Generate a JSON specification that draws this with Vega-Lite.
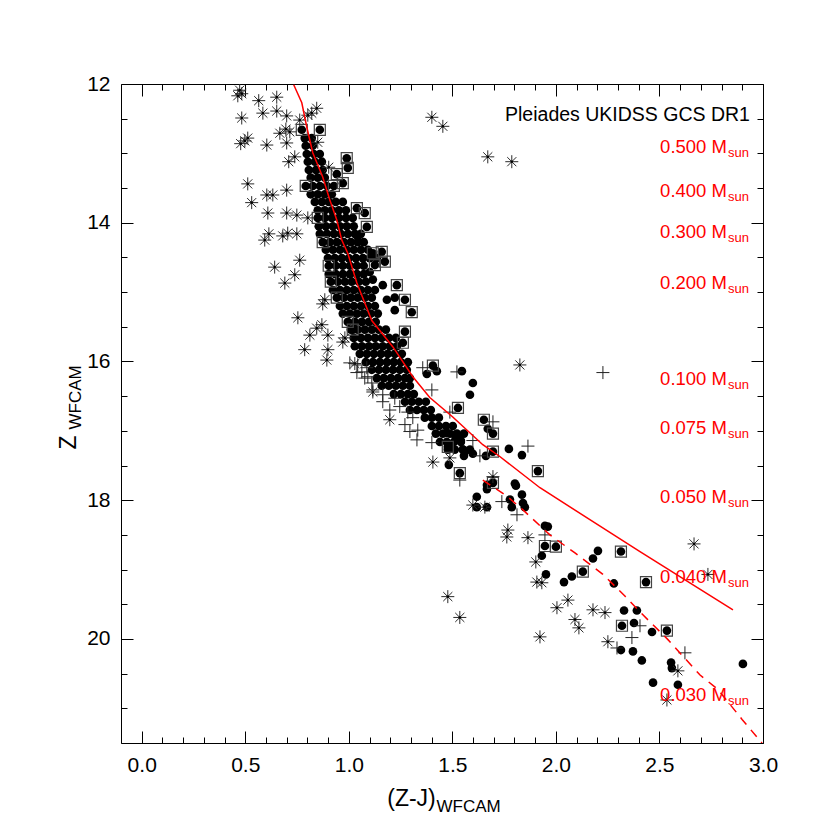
{
"$schema":"https://vega.github.io/schema/vega-lite/v6.json",
"width":642,"height":659,"autosize":"none",
"padding":{"left":121,"top":84,"right":67,"bottom":87},
"background":"white",
"config":{"view":{"stroke":null},"font":"Liberation Sans","axis":{"grid":false}},
"datasets":{
"pts":[
{"x":0.773,"y":12.66,"t":"b"},{"x":0.860,"y":12.66,"t":"b"},
{"x":0.787,"y":12.78,"t":"c"},{"x":0.821,"y":12.78,"t":"c"},
{"x":0.792,"y":12.89,"t":"c"},{"x":0.826,"y":12.89,"t":"c"},
{"x":0.797,"y":13.01,"t":"c"},{"x":0.831,"y":13.01,"t":"c"},{"x":0.860,"y":13.01,"t":"c"},
{"x":0.802,"y":13.12,"t":"c"},{"x":0.836,"y":13.12,"t":"c"},{"x":0.870,"y":13.12,"t":"c"},
{"x":0.807,"y":13.24,"t":"c"},{"x":0.841,"y":13.24,"t":"c"},{"x":0.874,"y":13.24,"t":"c"},
{"x":0.816,"y":13.35,"t":"c"},{"x":0.850,"y":13.35,"t":"c"},{"x":0.884,"y":13.35,"t":"c"},
{"x":0.792,"y":13.47,"t":"b"},{"x":0.826,"y":13.47,"t":"c"},{"x":0.860,"y":13.47,"t":"c"},{"x":0.894,"y":13.47,"t":"c"},{"x":0.928,"y":13.47,"t":"b"},
{"x":0.816,"y":13.59,"t":"c"},{"x":0.850,"y":13.59,"t":"c"},{"x":0.884,"y":13.59,"t":"c"},{"x":0.918,"y":13.59,"t":"c"},
{"x":0.836,"y":13.70,"t":"c"},{"x":0.870,"y":13.70,"t":"c"},{"x":0.903,"y":13.70,"t":"c"},{"x":0.937,"y":13.70,"t":"c"},{"x":0.971,"y":13.70,"t":"c"},
{"x":0.850,"y":13.82,"t":"c"},{"x":0.884,"y":13.82,"t":"c"},{"x":0.918,"y":13.82,"t":"c"},{"x":0.952,"y":13.82,"t":"c"},{"x":0.986,"y":13.82,"t":"c"},
{"x":0.850,"y":13.93,"t":"b"},{"x":0.884,"y":13.93,"t":"c"},{"x":0.918,"y":13.93,"t":"c"},{"x":0.952,"y":13.93,"t":"c"},{"x":0.986,"y":13.93,"t":"c"},{"x":1.019,"y":13.93,"t":"c"},
{"x":0.855,"y":14.05,"t":"c"},{"x":0.889,"y":14.05,"t":"c"},{"x":0.923,"y":14.05,"t":"c"},{"x":0.957,"y":14.05,"t":"c"},{"x":0.990,"y":14.05,"t":"c"},{"x":1.024,"y":14.05,"t":"c"},
{"x":0.860,"y":14.16,"t":"c"},{"x":0.894,"y":14.16,"t":"c"},{"x":0.928,"y":14.16,"t":"c"},{"x":0.961,"y":14.16,"t":"c"},{"x":0.995,"y":14.16,"t":"c"},{"x":1.029,"y":14.16,"t":"c"},{"x":1.058,"y":14.16,"t":"c"},
{"x":0.874,"y":14.28,"t":"b"},{"x":0.908,"y":14.28,"t":"c"},{"x":0.942,"y":14.28,"t":"c"},{"x":0.976,"y":14.28,"t":"c"},{"x":1.010,"y":14.28,"t":"c"},{"x":1.043,"y":14.28,"t":"c"},{"x":1.072,"y":14.28,"t":"c"},
{"x":0.889,"y":14.39,"t":"c"},{"x":0.923,"y":14.39,"t":"c"},{"x":0.957,"y":14.39,"t":"c"},{"x":0.990,"y":14.39,"t":"c"},{"x":1.024,"y":14.39,"t":"c"},{"x":1.058,"y":14.39,"t":"c"},{"x":1.092,"y":14.39,"t":"c"},
{"x":0.899,"y":14.51,"t":"c"},{"x":0.932,"y":14.51,"t":"c"},{"x":0.966,"y":14.51,"t":"c"},{"x":1.000,"y":14.51,"t":"c"},{"x":1.034,"y":14.51,"t":"c"},{"x":1.068,"y":14.51,"t":"c"},{"x":1.101,"y":14.51,"t":"c"},{"x":1.135,"y":14.51,"t":"c"},
{"x":0.903,"y":14.62,"t":"b"},{"x":0.937,"y":14.62,"t":"c"},{"x":0.971,"y":14.62,"t":"c"},{"x":1.005,"y":14.62,"t":"c"},{"x":1.039,"y":14.62,"t":"c"},{"x":1.072,"y":14.62,"t":"c"},
{"x":0.903,"y":14.74,"t":"c"},{"x":0.937,"y":14.74,"t":"c"},{"x":0.971,"y":14.74,"t":"c"},{"x":1.005,"y":14.74,"t":"c"},{"x":1.039,"y":14.74,"t":"c"},{"x":1.072,"y":14.74,"t":"c"},
{"x":0.913,"y":14.85,"t":"b"},{"x":0.947,"y":14.85,"t":"c"},{"x":0.981,"y":14.85,"t":"c"},{"x":1.014,"y":14.85,"t":"c"},{"x":1.048,"y":14.85,"t":"c"},{"x":1.082,"y":14.85,"t":"c"},
{"x":0.923,"y":14.97,"t":"c"},{"x":0.957,"y":14.97,"t":"c"},{"x":0.990,"y":14.97,"t":"c"},{"x":1.024,"y":14.97,"t":"c"},{"x":1.058,"y":14.97,"t":"c"},{"x":1.092,"y":14.97,"t":"c"},{"x":1.126,"y":14.97,"t":"c"},
{"x":0.942,"y":15.08,"t":"b"},{"x":0.976,"y":15.08,"t":"c"},{"x":1.010,"y":15.08,"t":"c"},{"x":1.043,"y":15.08,"t":"c"},{"x":1.077,"y":15.08,"t":"c"},{"x":1.111,"y":15.08,"t":"c"},
{"x":0.957,"y":15.20,"t":"c"},{"x":0.990,"y":15.20,"t":"c"},{"x":1.024,"y":15.20,"t":"c"},{"x":1.058,"y":15.20,"t":"c"},{"x":1.092,"y":15.20,"t":"c"},{"x":1.126,"y":15.20,"t":"c"},
{"x":0.971,"y":15.31,"t":"c"},{"x":1.005,"y":15.31,"t":"c"},{"x":1.039,"y":15.31,"t":"c"},{"x":1.072,"y":15.31,"t":"c"},{"x":1.106,"y":15.31,"t":"c"},{"x":1.140,"y":15.31,"t":"c"},
{"x":0.995,"y":15.43,"t":"b"},{"x":1.029,"y":15.43,"t":"c"},{"x":1.063,"y":15.43,"t":"c"},{"x":1.097,"y":15.43,"t":"c"},{"x":1.130,"y":15.43,"t":"c"},
{"x":1.010,"y":15.54,"t":"c"},{"x":1.043,"y":15.54,"t":"c"},{"x":1.077,"y":15.54,"t":"c"},{"x":1.111,"y":15.54,"t":"c"},{"x":1.145,"y":15.54,"t":"c"},{"x":1.179,"y":15.54,"t":"c"},
{"x":1.024,"y":15.66,"t":"c"},{"x":1.058,"y":15.66,"t":"c"},{"x":1.092,"y":15.66,"t":"c"},{"x":1.126,"y":15.66,"t":"c"},{"x":1.159,"y":15.66,"t":"c"},{"x":1.193,"y":15.66,"t":"c"},{"x":1.227,"y":15.66,"t":"c"},
{"x":1.029,"y":15.78,"t":"c"},{"x":1.063,"y":15.78,"t":"c"},{"x":1.097,"y":15.78,"t":"c"},{"x":1.130,"y":15.78,"t":"c"},{"x":1.164,"y":15.78,"t":"c"},{"x":1.198,"y":15.78,"t":"c"},{"x":1.232,"y":15.78,"t":"c"},
{"x":1.053,"y":15.89,"t":"c"},{"x":1.087,"y":15.89,"t":"c"},{"x":1.121,"y":15.89,"t":"c"},{"x":1.155,"y":15.89,"t":"c"},{"x":1.188,"y":15.89,"t":"c"},{"x":1.222,"y":15.89,"t":"c"},{"x":1.256,"y":15.89,"t":"c"},
{"x":1.082,"y":16.01,"t":"c"},{"x":1.116,"y":16.01,"t":"c"},{"x":1.150,"y":16.01,"t":"c"},{"x":1.184,"y":16.01,"t":"c"},{"x":1.217,"y":16.01,"t":"c"},{"x":1.251,"y":16.01,"t":"c"},{"x":1.285,"y":16.01,"t":"c"},
{"x":1.111,"y":16.12,"t":"c"},{"x":1.145,"y":16.12,"t":"c"},{"x":1.179,"y":16.12,"t":"c"},{"x":1.213,"y":16.12,"t":"c"},{"x":1.246,"y":16.12,"t":"c"},{"x":1.280,"y":16.12,"t":"c"},
{"x":1.135,"y":16.24,"t":"c"},{"x":1.169,"y":16.24,"t":"c"},{"x":1.203,"y":16.24,"t":"c"},{"x":1.237,"y":16.24,"t":"c"},{"x":1.271,"y":16.24,"t":"c"},{"x":1.295,"y":16.24,"t":"c"},
{"x":1.159,"y":16.35,"t":"c"},{"x":1.193,"y":16.35,"t":"c"},{"x":1.227,"y":16.35,"t":"c"},{"x":1.261,"y":16.35,"t":"c"},{"x":1.295,"y":16.35,"t":"c"},
{"x":1.217,"y":16.47,"t":"c"},{"x":1.251,"y":16.47,"t":"c"},{"x":1.285,"y":16.47,"t":"c"},{"x":1.314,"y":16.47,"t":"c"},
{"x":1.271,"y":16.58,"t":"c"},{"x":1.304,"y":16.58,"t":"c"},{"x":1.338,"y":16.58,"t":"c"},{"x":1.372,"y":16.58,"t":"c"},
{"x":1.295,"y":16.70,"t":"c"},{"x":1.329,"y":16.70,"t":"c"},{"x":1.362,"y":16.70,"t":"c"},{"x":1.396,"y":16.70,"t":"c"},
{"x":1.367,"y":16.81,"t":"c"},{"x":1.401,"y":16.81,"t":"c"},{"x":1.435,"y":16.81,"t":"c"},
{"x":1.401,"y":16.93,"t":"c"},{"x":1.435,"y":16.93,"t":"c"},{"x":1.469,"y":16.93,"t":"c"},{"x":1.502,"y":16.93,"t":"c"},
{"x":1.420,"y":17.04,"t":"c"},{"x":1.454,"y":17.04,"t":"c"},{"x":1.488,"y":17.04,"t":"c"},{"x":1.522,"y":17.04,"t":"c"},{"x":1.556,"y":17.04,"t":"c"},
{"x":1.440,"y":17.16,"t":"c"},{"x":1.473,"y":17.16,"t":"c"},{"x":1.507,"y":17.16,"t":"c"},{"x":1.541,"y":17.16,"t":"c"},
{"x":1.478,"y":17.27,"t":"c"},{"x":1.512,"y":17.27,"t":"c"},{"x":1.551,"y":17.27,"t":"c"},{"x":1.585,"y":17.27,"t":"c"},
{"x":0.990,"y":13.07,"t":"b"},{"x":0.995,"y":13.21,"t":"b"},{"x":0.942,"y":13.30,"t":"b"},{"x":0.971,"y":13.43,"t":"b"},
{"x":1.039,"y":13.79,"t":"b"},{"x":1.077,"y":13.86,"t":"b"},{"x":1.087,"y":14.06,"t":"b"},{"x":1.043,"y":14.20,"t":"c"},
{"x":1.116,"y":14.44,"t":"b"},{"x":1.159,"y":14.42,"t":"b"},{"x":1.174,"y":14.56,"t":"b"},{"x":1.126,"y":14.61,"t":"b"},
{"x":1.101,"y":14.71,"t":"c"},{"x":1.116,"y":14.82,"t":"c"},{"x":1.164,"y":14.90,"t":"c"},{"x":1.232,"y":14.90,"t":"b"},
{"x":1.222,"y":15.08,"t":"c"},{"x":1.184,"y":15.11,"t":"c"},{"x":1.271,"y":15.11,"t":"b"},{"x":1.222,"y":15.26,"t":"c"},
{"x":1.304,"y":15.29,"t":"b"},{"x":1.019,"y":15.54,"t":"b"},{"x":1.271,"y":15.57,"t":"b"},{"x":1.261,"y":15.73,"t":"b"},
{"x":1.406,"y":16.06,"t":"b"},{"x":1.425,"y":16.14,"t":"c"},{"x":1.377,"y":16.18,"t":"c"},{"x":1.546,"y":16.14,"t":"c"},
{"x":1.599,"y":16.31,"t":"c"},{"x":1.585,"y":16.48,"t":"c"},{"x":1.527,"y":16.67,"t":"b"},{"x":1.652,"y":16.84,"t":"b"},
{"x":1.671,"y":16.97,"t":"c"},{"x":1.696,"y":17.04,"t":"b"},{"x":1.473,"y":17.03,"t":"c"},{"x":1.512,"y":17.06,"t":"c"},
{"x":1.527,"y":17.10,"t":"c"},{"x":1.478,"y":17.23,"t":"b"},{"x":1.541,"y":17.14,"t":"c"},{"x":1.551,"y":17.27,"t":"c"},
{"x":1.488,"y":17.20,"t":"c"},{"x":1.560,"y":17.30,"t":"c"},{"x":1.556,"y":17.36,"t":"c"},{"x":1.599,"y":17.33,"t":"c"},
{"x":1.662,"y":17.36,"t":"c"},{"x":1.696,"y":17.30,"t":"b"},{"x":1.773,"y":17.26,"t":"c"},{"x":1.836,"y":17.35,"t":"c"},
{"x":1.483,"y":17.49,"t":"c"},{"x":1.536,"y":17.61,"t":"b"},{"x":1.913,"y":17.58,"t":"b"},{"x":1.696,"y":17.75,"t":"b"},
{"x":1.667,"y":17.84,"t":"c"},{"x":1.618,"y":17.95,"t":"c"},{"x":1.618,"y":18.10,"t":"c"},{"x":1.667,"y":18.10,"t":"c"},
{"x":1.802,"y":17.76,"t":"c"},{"x":1.807,"y":17.79,"t":"c"},{"x":1.836,"y":17.92,"t":"c"},{"x":1.778,"y":17.99,"t":"c"},
{"x":1.787,"y":18.10,"t":"c"},{"x":1.841,"y":18.04,"t":"c"},{"x":1.850,"y":18.10,"t":"c"},{"x":1.947,"y":18.37,"t":"c"},
{"x":1.961,"y":18.38,"t":"c"},{"x":1.947,"y":18.66,"t":"b"},{"x":2.000,"y":18.67,"t":"b"},{"x":1.932,"y":18.80,"t":"c"},
{"x":2.203,"y":18.73,"t":"c"},{"x":2.179,"y":18.84,"t":"c"},{"x":2.130,"y":19.03,"t":"b"},{"x":2.314,"y":18.74,"t":"b"},
{"x":1.952,"y":19.07,"t":"c"},{"x":2.077,"y":19.10,"t":"c"},{"x":2.039,"y":19.18,"t":"c"},{"x":2.280,"y":19.20,"t":"c"},
{"x":2.435,"y":19.18,"t":"b"},{"x":2.329,"y":19.59,"t":"c"},{"x":2.391,"y":19.59,"t":"c"},{"x":2.319,"y":19.81,"t":"b"},
{"x":2.377,"y":19.77,"t":"c"},{"x":2.464,"y":19.90,"t":"c"},{"x":2.536,"y":19.88,"t":"b"},{"x":2.314,"y":20.16,"t":"c"},
{"x":2.372,"y":20.18,"t":"c"},{"x":2.415,"y":20.31,"t":"c"},{"x":2.556,"y":20.34,"t":"c"},{"x":2.560,"y":20.42,"t":"c"},
{"x":2.469,"y":20.63,"t":"c"},{"x":2.589,"y":20.66,"t":"c"},{"x":2.903,"y":20.36,"t":"c"},{"x":1.667,"y":17.78,"t":"c"},
{"x":0.473,"y":12.09,"t":"a"},{"x":0.483,"y":12.14,"t":"a"},{"x":0.464,"y":12.17,"t":"a"},{"x":0.565,"y":12.24,"t":"a"},
{"x":0.652,"y":12.19,"t":"a"},{"x":0.585,"y":12.42,"t":"a"},{"x":0.652,"y":12.39,"t":"a"},{"x":0.700,"y":12.46,"t":"a"},
{"x":0.483,"y":12.49,"t":"a"},{"x":0.845,"y":12.35,"t":"a"},{"x":0.821,"y":12.42,"t":"a"},{"x":0.802,"y":12.45,"t":"a"},
{"x":0.763,"y":12.52,"t":"a"},{"x":0.696,"y":12.65,"t":"a"},{"x":0.715,"y":12.69,"t":"a"},{"x":0.667,"y":12.71,"t":"a"},
{"x":0.850,"y":12.84,"t":"a"},{"x":0.512,"y":12.78,"t":"a"},{"x":0.498,"y":12.82,"t":"a"},{"x":0.478,"y":12.86,"t":"a"},
{"x":0.604,"y":12.88,"t":"a"},{"x":0.700,"y":12.85,"t":"a"},{"x":0.739,"y":13.05,"t":"a"},{"x":0.710,"y":13.12,"t":"a"},
{"x":0.903,"y":13.20,"t":"a"},{"x":0.512,"y":13.44,"t":"a"},{"x":0.604,"y":13.60,"t":"a"},{"x":0.633,"y":13.60,"t":"a"},
{"x":0.700,"y":13.53,"t":"a"},{"x":0.531,"y":13.71,"t":"a"},{"x":0.609,"y":13.86,"t":"a"},{"x":0.700,"y":13.86,"t":"a"},
{"x":0.749,"y":13.89,"t":"a"},{"x":0.802,"y":13.93,"t":"a"},{"x":0.614,"y":14.16,"t":"a"},{"x":0.681,"y":14.19,"t":"a"},
{"x":0.705,"y":14.15,"t":"a"},{"x":0.749,"y":14.16,"t":"a"},{"x":0.594,"y":14.25,"t":"a"},{"x":0.642,"y":14.64,"t":"a"},
{"x":0.763,"y":14.54,"t":"a"},{"x":0.739,"y":14.75,"t":"a"},{"x":0.691,"y":14.87,"t":"a"},{"x":0.884,"y":15.11,"t":"a"},
{"x":0.874,"y":15.17,"t":"a"},{"x":0.754,"y":15.37,"t":"a"},{"x":0.870,"y":15.47,"t":"a"},{"x":0.845,"y":15.52,"t":"a"},
{"x":0.812,"y":15.62,"t":"a"},{"x":0.899,"y":15.62,"t":"a"},{"x":0.981,"y":15.66,"t":"a"},{"x":0.787,"y":15.83,"t":"a"},
{"x":0.899,"y":15.83,"t":"a"},{"x":0.894,"y":15.98,"t":"a"},{"x":0.971,"y":15.72,"t":"a"},{"x":1.826,"y":16.05,"t":"a"},
{"x":1.116,"y":16.44,"t":"a"},{"x":1.198,"y":16.84,"t":"a"},{"x":1.406,"y":17.45,"t":"a"},{"x":1.488,"y":17.39,"t":"a"},
{"x":1.696,"y":17.66,"t":"a"},{"x":1.599,"y":18.07,"t":"a"},{"x":1.657,"y":18.10,"t":"a"},{"x":1.768,"y":18.43,"t":"a"},
{"x":1.763,"y":18.53,"t":"a"},{"x":1.865,"y":18.54,"t":"a"},{"x":1.903,"y":18.89,"t":"a"},{"x":1.908,"y":19.18,"t":"a"},
{"x":1.932,"y":19.19,"t":"a"},{"x":1.478,"y":19.39,"t":"a"},{"x":1.536,"y":19.69,"t":"a"},{"x":2.058,"y":19.44,"t":"a"},
{"x":2.005,"y":19.55,"t":"a"},{"x":2.179,"y":19.58,"t":"a"},{"x":2.237,"y":19.62,"t":"a"},{"x":2.092,"y":19.72,"t":"a"},
{"x":2.111,"y":19.84,"t":"a"},{"x":1.923,"y":19.97,"t":"a"},{"x":2.251,"y":20.04,"t":"a"},{"x":2.589,"y":20.46,"t":"a"},
{"x":2.536,"y":20.88,"t":"a"},{"x":2.734,"y":19.07,"t":"a"},{"x":2.667,"y":18.63,"t":"a"},{"x":1.401,"y":12.48,"t":"a"},
{"x":1.454,"y":12.61,"t":"a"},{"x":1.671,"y":13.05,"t":"a"},{"x":1.787,"y":13.12,"t":"a"},{"x":1.029,"y":16.03,"t":"a"},
{"x":2.227,"y":16.16,"t":"p"},{"x":1.005,"y":16.02,"t":"p"},{"x":1.043,"y":16.05,"t":"p"},{"x":1.087,"y":16.09,"t":"p"},
{"x":1.039,"y":16.16,"t":"p"},{"x":1.092,"y":16.22,"t":"p"},{"x":1.063,"y":16.15,"t":"p"},{"x":1.077,"y":16.24,"t":"p"},
{"x":1.111,"y":16.31,"t":"p"},{"x":1.116,"y":16.41,"t":"p"},{"x":1.164,"y":16.48,"t":"p"},{"x":1.164,"y":16.58,"t":"p"},
{"x":1.246,"y":16.65,"t":"p"},{"x":1.285,"y":16.73,"t":"p"},{"x":1.309,"y":16.81,"t":"p"},{"x":1.295,"y":17.01,"t":"p"},
{"x":1.333,"y":16.99,"t":"p"},{"x":1.329,"y":17.13,"t":"p"},{"x":1.401,"y":17.17,"t":"p"},{"x":1.357,"y":16.09,"t":"p"},
{"x":1.401,"y":16.41,"t":"p"},{"x":1.522,"y":16.15,"t":"p"},{"x":1.536,"y":17.71,"t":"p"},{"x":1.599,"y":17.14,"t":"p"},
{"x":1.488,"y":16.73,"t":"p"},{"x":1.696,"y":16.87,"t":"p"},{"x":1.865,"y":17.22,"t":"p"},{"x":1.633,"y":17.36,"t":"p"},
{"x":1.739,"y":18.02,"t":"p"},{"x":1.812,"y":18.21,"t":"p"},{"x":1.947,"y":18.50,"t":"p"},{"x":2.406,"y":19.81,"t":"p"},
{"x":2.367,"y":19.98,"t":"p"},{"x":2.295,"y":20.13,"t":"p"},{"x":2.623,"y":20.20,"t":"p"},{"x":1.198,"y":16.70,"t":"p"},
{"x":1.271,"y":16.91,"t":"p"},{"x":1.222,"y":16.53,"t":"p"}
],
"solid":[
{"x":0.734,"y":12.01},{"x":0.773,"y":12.27},{"x":0.797,"y":12.62},{"x":0.826,"y":12.99},{"x":0.874,"y":13.34},
{"x":0.908,"y":13.67},{"x":0.942,"y":13.96},{"x":0.966,"y":14.25},{"x":0.995,"y":14.44},{"x":1.039,"y":14.87},
{"x":1.111,"y":15.41},{"x":1.213,"y":15.79},{"x":1.309,"y":16.22},{"x":1.391,"y":16.52},{"x":1.502,"y":16.80},
{"x":1.647,"y":17.20},{"x":1.729,"y":17.37},{"x":1.923,"y":17.82},{"x":2.164,"y":18.28},{"x":2.406,"y":18.74},
{"x":2.855,"y":19.58}
],
"dashed":[
{"x":1.647,"y":17.71},{"x":1.763,"y":17.94},{"x":1.841,"y":18.14},{"x":1.971,"y":18.50},{"x":2.092,"y":18.76},
{"x":2.227,"y":19.07},{"x":2.333,"y":19.38},{"x":2.406,"y":19.61},{"x":2.541,"y":20.01},{"x":2.696,"y":20.52},
{"x":2.783,"y":20.73},{"x":2.899,"y":21.16},{"x":2.995,"y":21.50}
],
"mass":[
{"m":"0.500 M","x":2.826,"y":13.00},{"m":"0.400 M","x":2.826,"y":13.63},{"m":"0.300 M","x":2.826,"y":14.22},
{"m":"0.200 M","x":2.826,"y":14.95},{"m":"0.100 M","x":2.826,"y":16.34},{"m":"0.075 M","x":2.826,"y":17.05},
{"m":"0.050 M","x":2.826,"y":18.04},{"m":"0.040 M","x":2.826,"y":19.19},{"m":"0.030 M","x":2.826,"y":20.90}
],
"lbl":[{"text":"Pleiades UKIDSS GCS DR1","x":2.937,"y":12.54}]
},
"layer":[
{"data":{"name":"pts"},"transform":[{"filter":{"field":"t","oneOf":["c","b"]}}],
 "mark":{"type":"point","shape":"circle","filled":true,"color":"black","size":75,"opacity":1,"strokeWidth":0,"clip":true},
 "encoding":{
  "x":{"field":"x","type":"quantitative","scale":{"domain":[-0.1,3.0],"nice":false,"zero":false},
   "axis":{"orient":"bottom","values":[0,0.1,0.2,0.3,0.4,0.5,0.6,0.7,0.8,0.9,1.0,1.1,1.2,1.3,1.4,1.5,1.6,1.7,1.8,1.9,2.0,2.1,2.2,2.3,2.4,2.5,2.6,2.7,2.8,2.9,3.0],
    "domainColor":"black","domainWidth":1,"tickColor":"black","tickWidth":1,
    "tickSize":{"condition":{"test":"abs(datum.value*2-round(datum.value*2))<0.001","value":-12},"value":-6},
    "labelExpr":"abs(datum.value*2-round(datum.value*2))<0.001 ? format(datum.value,'.1f') : ''",
    "labelFontSize":21,"labelColor":"black","labelPadding":23,"labelFlush":false,"labelOverlap":false,"labelBaseline":"top",
    "title":"(Z-J)","titleFontSize":23,"titleFontWeight":"normal","titleColor":"black","titleX":290,"titleY":62,"titleAlign":"center","titleBaseline":"alphabetic"}},
  "y":{"field":"y","type":"quantitative","scale":{"domain":[12,21.5],"reverse":true,"nice":false,"zero":false},
   "axis":{"orient":"left","values":[12,12.5,13,13.5,14,14.5,15,15.5,16,16.5,17,17.5,18,18.5,19,19.5,20,20.5,21,21.5],
    "domainColor":"black","domainWidth":1,"tickColor":"black","tickWidth":1,
    "tickSize":{"condition":{"test":"datum.value % 2 == 0","value":-12},"value":-6},
    "labelExpr":"datum.value % 2 == 0 ? format(datum.value,'d') : ''",
    "labelFontSize":21,"labelColor":"black","labelPadding":23,"labelFlush":false,"labelOverlap":false,
    "title":"Z","titleFontSize":23,"titleFontWeight":"normal","titleColor":"black","titleAngle":270,"titleX":-46,"titleY":358,"titleAlign":"center","titleBaseline":"alphabetic"}}
 }},
{"data":{"name":"pts"},"transform":[{"filter":{"field":"t","equal":"b"}}],
 "mark":{"type":"point","shape":"square","filled":false,"stroke":"#444444","strokeWidth":1.2,"size":121,"opacity":1,"clip":true},
 "encoding":{
  "x":{"field":"x","type":"quantitative","scale":{"domain":[-0.1,3.0],"nice":false,"zero":false},
   "axis":{"orient":"top","values":[0,0.1,0.2,0.3,0.4,0.5,0.6,0.7,0.8,0.9,1.0,1.1,1.2,1.3,1.4,1.5,1.6,1.7,1.8,1.9,2.0,2.1,2.2,2.3,2.4,2.5,2.6,2.7,2.8,2.9,3.0],
    "domainColor":"black","domainWidth":1,"tickColor":"black","tickWidth":1,
    "tickSize":{"condition":{"test":"abs(datum.value*2-round(datum.value*2))<0.001","value":-12},"value":-6},
    "labels":false,
    "title":"WFCAM","titleFontSize":17,"titleFontWeight":"normal","titleColor":"black","titleX":315,"titleY":727,"titleAlign":"left","titleBaseline":"alphabetic"}},
  "y":{"field":"y","type":"quantitative","scale":{"domain":[12,21.5],"reverse":true,"nice":false,"zero":false},
   "axis":{"orient":"right","values":[12,12.5,13,13.5,14,14.5,15,15.5,16,16.5,17,17.5,18,18.5,19,19.5,20,20.5,21,21.5],
    "domainColor":"black","domainWidth":1,"tickColor":"black","tickWidth":1,
    "tickSize":{"condition":{"test":"datum.value % 2 == 0","value":-12},"value":-6},
    "labels":false,
    "title":"WFCAM","titleFontSize":17,"titleFontWeight":"normal","titleColor":"black","titleAngle":270,"titleX":-683,"titleY":345,"titleAlign":"left","titleBaseline":"alphabetic"}}
 }},
{"data":{"name":"pts"},"transform":[{"filter":{"field":"t","equal":"a"}}],
 "mark":{"type":"point","shape":"M-1,0L1,0M0,-1L0,1M-0.7,-0.7L0.7,0.7M-0.7,0.7L0.7,-0.7","filled":false,"stroke":"#2a2a2a","strokeWidth":1,"size":169,"opacity":1,"clip":true},
 "encoding":{
  "x":{"field":"x","type":"quantitative","scale":{"domain":[-0.1,3.0],"nice":false,"zero":false},"axis":null},
  "y":{"field":"y","type":"quantitative","scale":{"domain":[12,21.5],"reverse":true,"nice":false,"zero":false},"axis":null}}},
{"data":{"name":"pts"},"transform":[{"filter":{"field":"t","equal":"a"}}],
 "mark":{"type":"point","shape":"square","filled":true,"color":"black","size":5,"opacity":1,"strokeWidth":0,"clip":true},
 "encoding":{
  "x":{"field":"x","type":"quantitative","scale":{"domain":[-0.1,3.0],"nice":false,"zero":false},"axis":null},
  "y":{"field":"y","type":"quantitative","scale":{"domain":[12,21.5],"reverse":true,"nice":false,"zero":false},"axis":null}}},
{"data":{"name":"pts"},"transform":[{"filter":{"field":"t","equal":"p"}}],
 "mark":{"type":"point","shape":"M-1,0L1,0M0,-1L0,1","filled":false,"stroke":"#222222","strokeWidth":1,"size":169,"opacity":1,"clip":true},
 "encoding":{
  "x":{"field":"x","type":"quantitative","scale":{"domain":[-0.1,3.0],"nice":false,"zero":false},"axis":null},
  "y":{"field":"y","type":"quantitative","scale":{"domain":[12,21.5],"reverse":true,"nice":false,"zero":false},"axis":null}}},
{"data":{"name":"solid"},
 "mark":{"type":"line","color":"#ff0000","strokeWidth":1.5,"clip":true},
 "encoding":{
  "x":{"field":"x","type":"quantitative","scale":{"domain":[-0.1,3.0],"nice":false,"zero":false},"axis":null},
  "y":{"field":"y","type":"quantitative","scale":{"domain":[12,21.5],"reverse":true,"nice":false,"zero":false},"axis":null},
  "order":{"field":"y","type":"quantitative"}}},
{"data":{"name":"dashed"},
 "mark":{"type":"line","color":"#ff0000","strokeWidth":1.5,"strokeDash":[9,7],"clip":true},
 "encoding":{
  "x":{"field":"x","type":"quantitative","scale":{"domain":[-0.1,3.0],"nice":false,"zero":false},"axis":null},
  "y":{"field":"y","type":"quantitative","scale":{"domain":[12,21.5],"reverse":true,"nice":false,"zero":false},"axis":null},
  "order":{"field":"y","type":"quantitative"}}},
{"data":{"name":"mass"},
 "mark":{"type":"text","color":"#ff0000","fontSize":18.5,"align":"right","baseline":"alphabetic","font":"Liberation Sans"},
 "encoding":{
  "x":{"field":"x","type":"quantitative","scale":{"domain":[-0.1,3.0],"nice":false,"zero":false},"axis":null},
  "y":{"field":"y","type":"quantitative","scale":{"domain":[12,21.5],"reverse":true,"nice":false,"zero":false},"axis":null},
  "text":{"field":"m"}}},
{"data":{"name":"mass"},
 "mark":{"type":"text","color":"#ff0000","fontSize":13,"align":"left","baseline":"alphabetic","dx":1,"dy":4,"font":"Liberation Sans","text":"sun"},
 "encoding":{
  "x":{"field":"x","type":"quantitative","scale":{"domain":[-0.1,3.0],"nice":false,"zero":false},"axis":null},
  "y":{"field":"y","type":"quantitative","scale":{"domain":[12,21.5],"reverse":true,"nice":false,"zero":false},"axis":null}}},
{"data":{"name":"lbl"},
 "mark":{"type":"text","color":"black","fontSize":19.5,"align":"right","baseline":"alphabetic","font":"Liberation Sans"},
 "encoding":{
  "x":{"field":"x","type":"quantitative","scale":{"domain":[-0.1,3.0],"nice":false,"zero":false},"axis":null},
  "y":{"field":"y","type":"quantitative","scale":{"domain":[12,21.5],"reverse":true,"nice":false,"zero":false},"axis":null},
  "text":{"field":"text"}}}
],
"resolve":{"axis":{"x":"independent","y":"independent"}}
}
